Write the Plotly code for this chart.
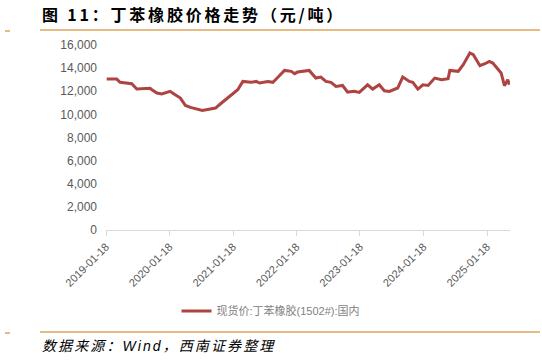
import plotly.graph_objects as go

dates = [
    "2019-01-22", "2019-03-21", "2019-04-09", "2019-06-15", "2019-07-14", "2019-09-29",
    "2019-10-09", "2019-11-07", "2019-12-05", "2020-01-22", "2020-02-11", "2020-03-21",
    "2020-04-19", "2020-05-18", "2020-07-25", "2020-10-09", "2020-11-07", "2020-12-16",
    "2021-02-14", "2021-03-15", "2021-05-02", "2021-05-31", "2021-06-19", "2021-08-06",
    "2021-09-04", "2021-09-23", "2021-11-10", "2021-12-19", "2022-01-07", "2022-01-24",
    "2022-03-03", "2022-04-01", "2022-05-09", "2022-06-07", "2022-07-06", "2022-08-04",
    "2022-09-02", "2022-10-10", "2022-11-08", "2022-12-16", "2023-01-14", "2023-03-03",
    "2023-04-01", "2023-05-09", "2023-06-07", "2023-07-06", "2023-08-23", "2023-09-21",
    "2023-10-29", "2023-11-18", "2023-12-17", "2024-01-15", "2024-02-14", "2024-03-23",
    "2024-05-01", "2024-06-08", "2024-06-18", "2024-08-05", "2024-09-03", "2024-10-11",
    "2024-10-31", "2024-12-08", "2025-01-06", "2025-01-31", "2025-02-20", "2025-03-21",
    "2025-04-09", "2025-04-28", "2025-05-17", "2025-05-27",
]
prices = [
    13050, 13050, 12770, 12650, 12190, 12250,
    12130, 11850, 11760, 11990, 11790, 11410,
    10770, 10600, 10340, 10550, 10920, 11410,
    12130, 12850, 12770, 12850, 12710, 12850,
    12770, 13060, 13800, 13720, 13520, 13660,
    13720, 13800, 13140, 13230, 12850, 12770,
    12420, 12500, 11930, 11990, 11900, 12560,
    12190, 12560, 12040, 11990, 12280, 13230,
    12850, 12770, 12190, 12560, 12500, 13140,
    13000, 13090, 13800, 13720, 14300, 15310,
    15160, 14210, 14380, 14580, 14440, 13920,
    13580, 12480, 13000, 12560,
]
tick_dates = ["2019-01-18", "2020-01-18", "2021-01-18", "2022-01-18",
              "2023-01-18", "2024-01-18", "2025-01-18"]
series_name = "现货价:丁苯橡胶(1502#):国内"
title_text = "图 11：丁苯橡胶价格走势（元/吨）"
source_text = "数据来源：Wind，西南证券整理"

fig = go.Figure()
fig.add_trace(go.Scatter(
    x=dates, y=prices, mode="lines", name=series_name,
    line=dict(color="#AE4441", width=3),
))

W, H = 542, 363
L, R, T, B = 106, 32, 45, 133
pw, ph = W - L - R, H - T - B


def px(x):
    return (x - L) / pw


def py(y):
    return (H - B - y) / ph


orange = "#DFA45C"
fig.update_layout(
    width=W, height=H,
    margin=dict(l=L, r=R, t=T, b=B),
    paper_bgcolor="white", plot_bgcolor="white",
    font=dict(family="Liberation Sans, Arial, sans-serif", color="#595959", size=11),
    showlegend=True,
    legend=dict(orientation="h", x=px(271), xanchor="center", y=py(311), yanchor="middle",
                font=dict(size=11, color="#7F7F7F",
                          family="Liberation Sans, Noto Sans CJK SC, sans-serif"),
                itemwidth=30),
    xaxis=dict(
        type="date", range=["2019-01-18", "2025-05-30"], automargin=False,
        tickmode="array", tickvals=tick_dates, ticktext=tick_dates,
        tickangle=-45, showgrid=False, showline=True, linecolor="#D9D9D9",
        ticks="outside", ticklen=5, tickcolor="#D9D9D9",
        tickfont=dict(size=11, color="#595959"), zeroline=False,
    ),
    yaxis=dict(
        range=[0, 16000], tickvals=list(range(0, 16001, 2000)), automargin=False,
        tickformat=",d", showgrid=False, showline=False, zeroline=False,
        ticks="", ticklabelstandoff=8,
        tickfont=dict(size=12, color="#595959"),
    ),
    annotations=[
        dict(text='<b><span style="letter-spacing:2.8px">' + title_text + "</span></b>",
             xref="paper", yref="paper",
             x=px(40), y=py(14), xanchor="left", yanchor="middle",
             showarrow=False, font=dict(size=16, color="#000000",
                                        family="Noto Sans CJK SC, sans-serif")),
        dict(text='<i><span style="letter-spacing:2.1px">' + source_text + "</span></i>",
             xref="paper", yref="paper",
             x=px(40), y=py(346), xanchor="left", yanchor="middle",
             showarrow=False, font=dict(size=14, color="#000000",
                                        family="Liberation Sans, Noto Sans CJK SC, sans-serif")),
    ],
    shapes=[
        dict(type="line", xref="paper", yref="paper", x0=px(5), x1=px(10),
             y0=py(31), y1=py(31), line=dict(color=orange, width=1.5)),
        dict(type="line", xref="paper", yref="paper", x0=px(40), x1=px(540),
             y0=py(30), y1=py(30), line=dict(color=orange, width=1.5)),
        dict(type="line", xref="paper", yref="paper", x0=px(5), x1=px(10),
             y0=py(333), y1=py(333), line=dict(color=orange, width=1.5)),
        dict(type="line", xref="paper", yref="paper", x0=px(40), x1=px(540),
             y0=py(332), y1=py(332), line=dict(color=orange, width=1.5)),
    ],
)

fig.write_html("out.html", config={"displayModeBar": False},
               post_script="document.body.style.margin='0';")
